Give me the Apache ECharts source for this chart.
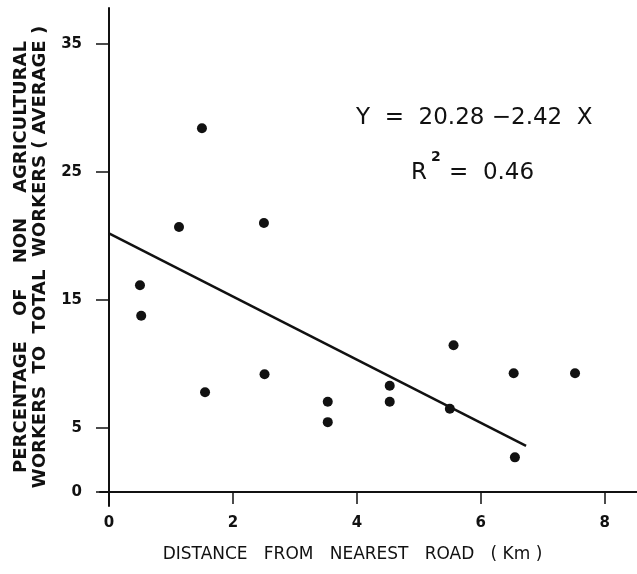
<!DOCTYPE html>
<html>
<head>
<meta charset="utf-8">
<script src="https://cdn.jsdelivr.net/npm/echarts@6/dist/echarts.min.js"></script>
<style>
html, body { margin: 0; padding: 0; background: #fff; }
#chart { width: 637px; height: 574px; }
</style>
</head>
<body>
<div id="chart"></div>
<script>
// observed villages: distance from road (km) vs % non agricultural workers
var distanceKm = [0.5, 0.52, 1.13, 1.5, 1.55, 2.5, 2.51, 3.53, 3.53, 4.53, 4.53, 5.5, 5.56, 6.53, 6.55, 7.52];
var nonAgriPct = [16.15, 13.76, 20.7, 28.4, 7.78, 21.0, 9.19, 7.05, 5.45, 8.3, 7.05, 6.5, 11.45, 9.27, 2.7, 9.27];
// fitted line, as drawn
var fitX = [0, 6.73];
var fitY = [20.2, 3.6];
var xTicks = [0, 2, 4, 6, 8];
var yTicks = [0, 5, 15, 25, 35];

var points = distanceKm.map(function (d, i) { return [d, nonAgriPct[i]]; });
var fitLine = fitX.map(function (d, i) { return [d, fitY[i]]; });

var myChart = echarts.init(document.getElementById('chart'));
var option = {
	backgroundColor: '#fff',
	animation: false,
	grid: {
		left: 100,
		right: 0,
		top: 8,
		bottom: 68,
		outerBoundsMode: 'none',
		containLabel: false
	},
	xAxis: {
		type: 'value',
		min: -0.145,
		max: 8.52,
		name: 'DISTANCE   FROM   NEAREST   ROAD   ( Km )',
		nameLocation: 'middle',
		nameGap: 40,
		nameMoveOverlap: false,
		nameTextStyle: {
			fontFamily: 'DejaVu Sans',
			fontSize: 17,
			color: '#111',
			padding: [0, 32, 0, 0]
		},
		axisLine: { onZero: true, lineStyle: { color: '#111', width: 2 } },
		axisTick: { customValues: xTicks, length: 12, lineStyle: { color: '#111', width: 1.5 } },
		axisLabel: {
			customValues: xTicks,
			margin: 10,
			color: '#111',
			fontFamily: 'DejaVu Sans',
			fontWeight: 'bold',
			fontSize: 15
		},
		splitLine: { show: false }
	},
	yAxis: {
		type: 'value',
		min: -1.1,
		max: 37.8,
		name: 'PERCENTAGE    OF    NON    AGRICULTURAL\nWORKERS  TO  TOTAL  WORKERS ( AVERAGE )',
		nameLocation: 'middle',
		nameRotate: 90,
		nameGap: 50,
		nameMoveOverlap: false,
		nameTextStyle: {
			fontFamily: 'DejaVu Sans',
			fontWeight: 'bold',
			fontSize: 18,
			lineHeight: 19,
			color: '#111'
		},
		axisLine: { onZero: true, lineStyle: { color: '#111', width: 2 } },
		axisTick: { customValues: yTicks, length: 13, lineStyle: { color: '#111', width: 1.5 } },
		axisLabel: {
			customValues: yTicks,
			margin: 18,
			color: '#111',
			fontFamily: 'DejaVu Sans',
			fontWeight: 'bold',
			fontSize: 15
		},
		splitLine: { show: false }
	},
	graphic: [
		{
			type: 'text',
			left: 356,
			top: 107,
			style: {
				text: 'Y  =  20.28 \u22122.42  X',
				font: '23px "DejaVu Sans"',
				fill: '#111'
			}
		},
		{
			type: 'text',
			left: 411,
			top: 162,
			style: {
				text: 'R',
				font: '23px "DejaVu Sans"',
				fill: '#111'
			}
		},
		{
			type: 'text',
			left: 431,
			top: 150,
			style: {
				text: '2',
				font: 'bold 14px "DejaVu Sans"',
				fill: '#111'
			}
		},
		{
			type: 'text',
			left: 449,
			top: 162,
			style: {
				text: '=  0.46',
				font: '23px "DejaVu Sans"',
				fill: '#111'
			}
		}
	],
	series: [
		{
			name: 'villages',
			type: 'scatter',
			data: points,
			symbol: 'circle',
			symbolSize: 10,
			itemStyle: { color: '#111', opacity: 1 }
		},
		{
			name: 'fit',
			type: 'line',
			data: fitLine,
			symbol: 'none',
			lineStyle: { color: '#111', width: 2.5 }
		}
	]
};
myChart.setOption(option);
</script>
</body>
</html>
